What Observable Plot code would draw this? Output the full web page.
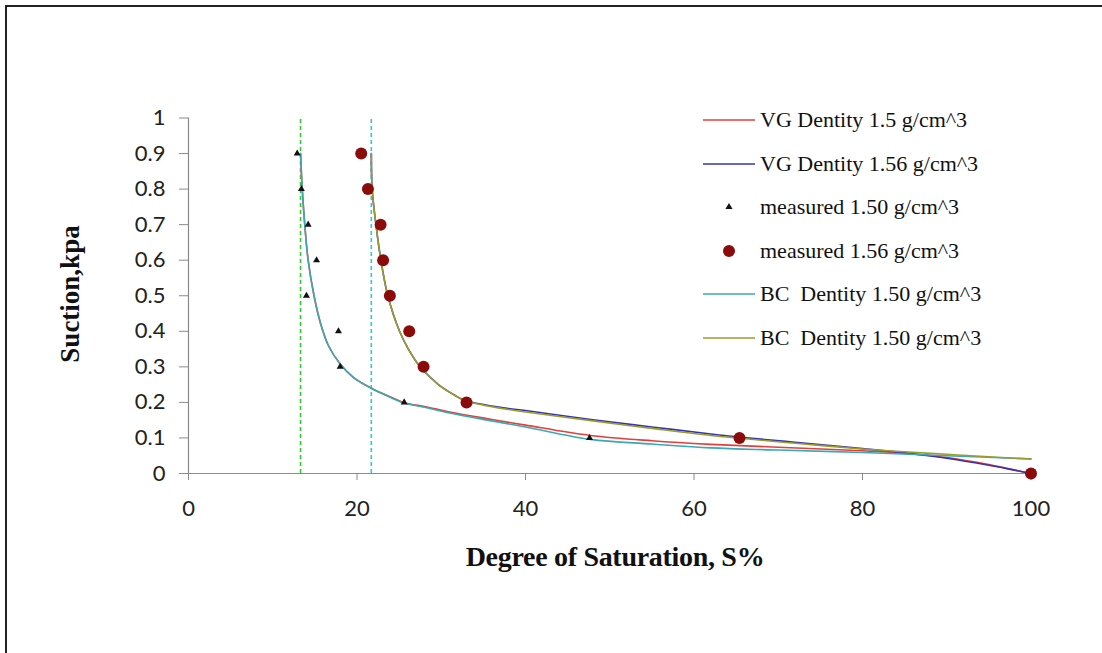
<!DOCTYPE html>
<html>
<head>
<meta charset="utf-8">
<script src="https://cdn.jsdelivr.net/npm/d3@7"></script>
<script src="https://cdn.jsdelivr.net/npm/@observablehq/plot@0.6"></script>
<style>
  html, body { margin: 0; padding: 0; background: #fff; }
  #wrap { position: relative; width: 1102px; height: 653px; overflow: hidden; }
  #frame { position: absolute; left: 5px; top: 5px; width: 1102px; height: 653px;
           border-top: 2px solid #222; border-left: 2px solid #222; box-sizing: border-box; pointer-events: none; }
  #chart { position: absolute; left: 0; top: 0; }
  .title { position: absolute; font-family: "Liberation Serif", "Times New Roman", serif; font-weight: bold;
           font-size: 27px; color: #111; white-space: nowrap; }
  #xtitle { left: 615px; top: 557px; transform: translate(-50%, -50%); font-size: 28px; letter-spacing: -0.3px; }
  #ytitle { left: 70px; top: 294px; transform: translate(-50%, -50%) rotate(-90deg); }
  #legend { position: absolute; left: 703px; top: 0; font-family: "Liberation Serif", "Times New Roman", serif;
            font-size: 22px; color: #111; }
  .row { position: absolute; left: 0; height: 30px; display: flex; align-items: center; white-space: nowrap; }
  .row svg { display: block; }
  .row span { margin-left: 5px; }
</style>
</head>
<body>
<div id="wrap">
  <div id="chart"></div>
  <div id="xtitle" class="title">Degree of Saturation, S%</div>
  <div id="ytitle" class="title">Suction,kpa</div>
  <div id="legend"></div>
  <div id="frame"></div>
</div>
<script>
// ---- Data ----
const xTicks = [0, 20, 40, 60, 80, 100];
const yTicks = [0, 0.1, 0.2, 0.3, 0.4, 0.5, 0.6, 0.7, 0.8, 0.9, 1];

// measured points
const meas150S = [12.9, 13.4, 14.2, 15.2, 14.0, 17.8, 18.0, 25.6, 47.6, 100];
const meas150h = [0.9, 0.8, 0.7, 0.6, 0.5, 0.4, 0.3, 0.2, 0.1, 0];
const meas156S = [20.5, 21.3, 22.8, 23.1, 23.9, 26.2, 27.9, 33.0, 65.4, 100];
const meas156h = [0.9, 0.8, 0.7, 0.6, 0.5, 0.4, 0.3, 0.2, 0.1, 0];

// VG density 1.5 (red)
const vg150S = [13.3, 13.5, 13.8, 14.2, 14.9, 15.7, 16.6, 18.0, 19.6, 21.7, 24.0, 25.5, 28.3, 31, 36, 40, 47.7, 55, 62, 70, 80, 86, 90, 95, 100];
const vg150h = [0.9, 0.8, 0.7, 0.6, 0.5, 0.42, 0.36, 0.308, 0.27, 0.24, 0.215, 0.2, 0.187, 0.173, 0.152, 0.136, 0.107, 0.092, 0.082, 0.074, 0.064, 0.055, 0.045, 0.025, 0];

// VG density 1.56 (blue)
const vg156S = [21.7, 21.8, 22.25, 22.84, 23.66, 25.05, 26.1, 27.5, 29.66, 31.6, 32.8, 34.5, 36, 38, 40, 48, 55, 62, 65.5, 72, 80, 85, 90, 95, 100];
const vg156h = [0.9, 0.8, 0.7, 0.6, 0.5, 0.4, 0.35, 0.3, 0.25, 0.22, 0.205, 0.196, 0.19, 0.183, 0.177, 0.151, 0.131, 0.111, 0.102, 0.088, 0.07, 0.058, 0.043, 0.023, 0];

// BC density 1.50 (teal)
const bc150S = [13.3, 13.5, 13.8, 14.2, 14.9, 15.7, 16.6, 18.0, 19.6, 21.7, 24.0, 25.5, 28.3, 31, 36, 40, 47.7, 55, 62, 70, 80, 90, 100];
const bc150h = [0.9, 0.8, 0.7, 0.6, 0.5, 0.42, 0.36, 0.308, 0.27, 0.24, 0.214, 0.199, 0.185, 0.17, 0.148, 0.131, 0.096, 0.083, 0.072, 0.066, 0.059, 0.05, 0.041];

// BC density 1.56 (olive)
const bc156S = [21.7, 21.8, 22.25, 22.84, 23.66, 25.05, 26.1, 27.5, 29.66, 31.6, 32.8, 34.5, 36, 38, 40, 48, 55, 62, 65.5, 72, 80, 85, 90, 95, 100];
const bc156h = [0.9, 0.8, 0.7, 0.6, 0.5, 0.4, 0.35, 0.3, 0.25, 0.22, 0.205, 0.195, 0.188, 0.18, 0.173, 0.148, 0.127, 0.107, 0.099, 0.085, 0.069, 0.061, 0.054, 0.047, 0.041];

// reference lines (dashed)
const dashGreen = [13.3];
const dashCyan = [21.7];

const seriesNames = ["VG Dentity 1.5 g/cm^3", "VG Dentity 1.56 g/cm^3", "measured 1.50 g/cm^3", "measured 1.56 g/cm^3", "BC  Dentity 1.50 g/cm^3", "BC  Dentity 1.50 g/cm^3"];
const colors = { red: "#e2403a", blue: "#3535b0", teal: "#3aa8b6", olive: "#9c9c2c", dot: "#8b0b0b", green: "#2ecc2e", cyan: "#2cc6e6" };

// ---- Build tables ----
const zip = (S, h) => S.map((s, i) => ({ S: s, h: h[i] }));
const vg150 = zip(vg150S, vg150h), vg156 = zip(vg156S, vg156h);
const bc150 = zip(bc150S, bc150h), bc156 = zip(bc156S, bc156h);
const m150 = zip(meas150S, meas150h), m156 = zip(meas156S, meas156h);

const lineOpts = (stroke) => ({ x: "S", y: "h", stroke, strokeWidth: 1.6, curve: "catmull-rom" });

const chart = Plot.plot({
  width: 1102,
  height: 653,
  marginLeft: 188,
  marginRight: 71.5,
  marginTop: 117.5,
  marginBottom: 180,
  style: { fontFamily: "Lato, 'Liberation Sans', sans-serif", fontSize: "22px", color: "#222", background: "transparent" },
  x: { domain: [0, 100] },
  y: { domain: [0, 1] },
  marks: [
    Plot.axisX({ ticks: xTicks, tickSize: 7, tickPadding: 20, stroke: "#8a8a8a", fill: "#222", label: null }),
    Plot.axisY({ ticks: yTicks, tickSize: 9, tickPadding: 14, stroke: "#8a8a8a", fill: "#222", label: null,
                 tickFormat: d => String(+d.toFixed(1)) }),
    Plot.ruleX([0], { stroke: "#8a8a8a", strokeWidth: 1.2 }),
    Plot.ruleY([0], { stroke: "#8a8a8a", strokeWidth: 1.2 }),
    Plot.ruleX(dashGreen, { y1: 0, y2: 1, stroke: colors.green, strokeWidth: 1.6, strokeDasharray: "4,3" }),
    Plot.ruleX(dashCyan, { y1: 0, y2: 1, stroke: colors.cyan, strokeWidth: 1.6, strokeDasharray: "4,3" }),
    Plot.line(vg150, lineOpts(colors.red)),
    Plot.line(vg156, lineOpts(colors.blue)),
    Plot.line(bc150, lineOpts(colors.teal)),
    Plot.line(bc156, lineOpts(colors.olive)),
    Plot.dot(m150, { x: "S", y: "h", symbol: "triangle", r: 2.6, fill: "#111", stroke: "none" }),
    Plot.dot(m156, { x: "S", y: "h", r: 6, fill: colors.dot, stroke: "none" })
  ]
});
document.getElementById("chart").appendChild(chart);

// ---- Legend ----
const legendRows = [
  { name: seriesNames[0], kind: "line", color: colors.red },
  { name: seriesNames[1], kind: "line", color: colors.blue },
  { name: seriesNames[2], kind: "tri", color: "#111" },
  { name: seriesNames[3], kind: "dot", color: colors.dot },
  { name: seriesNames[4], kind: "line", color: colors.teal },
  { name: seriesNames[5], kind: "line", color: colors.olive }
];
const rowCenters = [120, 163.5, 207, 250.5, 294, 337.5];
const legend = document.getElementById("legend");
legendRows.forEach((r, i) => {
  const row = document.createElement("div");
  row.className = "row";
  row.style.top = (rowCenters[i] - 15) + "px";
  const ns = "http://www.w3.org/2000/svg";
  const sw = document.createElementNS(ns, "svg");
  sw.setAttribute("width", "52"); sw.setAttribute("height", "30");
  if (r.kind === "line") {
    const l = document.createElementNS(ns, "line");
    l.setAttribute("x1", "0"); l.setAttribute("x2", "52"); l.setAttribute("y1", "15"); l.setAttribute("y2", "15");
    l.setAttribute("stroke", r.color); l.setAttribute("stroke-width", "1.6");
    sw.appendChild(l);
  } else if (r.kind === "dot") {
    const c = document.createElementNS(ns, "circle");
    c.setAttribute("cx", "26"); c.setAttribute("cy", "15"); c.setAttribute("r", "6"); c.setAttribute("fill", r.color);
    sw.appendChild(c);
  } else {
    const p = document.createElementNS(ns, "path");
    p.setAttribute("d", d3.symbol(d3.symbolTriangle, 22)());
    p.setAttribute("transform", "translate(26,15)");
    p.setAttribute("fill", r.color);
    sw.appendChild(p);
  }
  row.appendChild(sw);
  const t = document.createElement("span");
  t.textContent = r.name;
  t.style.whiteSpace = "pre";
  row.appendChild(t);
  legend.appendChild(row);
});
</script>
</body>
</html>
